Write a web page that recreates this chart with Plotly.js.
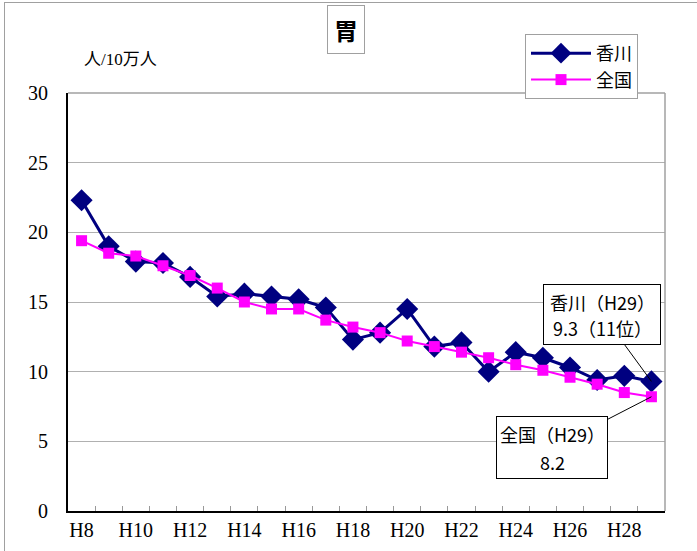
<!DOCTYPE html>
<html>
<head>
<meta charset="utf-8">
<script src="https://cdn.plot.ly/plotly-3.0.1.min.js"></script>
<style>
  html, body { margin: 0; padding: 0; background: #fff; }
  #wrap { position: relative; width: 697px; height: 551px; }
  #chart { width: 697px; height: 551px; }
  #frameL { position: absolute; left: 4px; top: 2px; width: 0; height: 549px; border-left: 1px solid #a0a0a0; }
  #frameT { position: absolute; left: 4px; top: 2px; width: 693px; height: 0; border-top: 1px solid #a0a0a0; }
</style>
</head>
<body>
<div id="wrap">
  <div id="chart"></div>
  <div id="frameL"></div>
  <div id="frameT"></div>
</div>
<script>
// Data
const years = ["H8","H9","H10","H11","H12","H13","H14","H15","H16","H17","H18",
               "H19","H20","H21","H22","H23","H24","H25","H26","H27","H28","H29"];
const tickLabels = ["H8","","H10","","H12","","H14","","H16","","H18",
                    "","H20","","H22","","H24","","H26","","H28",""];
const kagawa = [22.3,19.0,17.9,17.8,16.8,15.4,15.6,15.4,15.2,14.6,12.3,
                12.8,14.5,11.8,12.1,10.0,11.4,11.0,10.3,9.4,9.7,9.3];
const zenkoku = [19.4,18.5,18.3,17.6,16.9,16.0,15.0,14.5,14.5,13.7,13.2,
                 12.8,12.2,11.8,11.4,11.0,10.5,10.1,9.6,9.1,8.5,8.2];
const seriesNames = ["香川","全国"];
const yUnit = "人/10万人";
const chartTitle = "胃";
const noteKagawaLines = ["香川（H29）", "9.3（11位）"];
const noteZenkokuLines = ["全国（H29）", "8.2"];

const serif = "Liberation Serif, 'Noto Sans CJK JP', serif";
const sans = "'Noto Sans CJK JP', 'Noto Sans', sans-serif";

const traces = [
  {
    x: years, y: kagawa, name: seriesNames[0], type: "scatter", mode: "lines+markers",
    line: { color: "#000080", width: 3 },
    marker: { symbol: "diamond", size: 17, color: "#000080" }
  },
  {
    x: years, y: zenkoku, name: seriesNames[1], type: "scatter", mode: "lines+markers",
    line: { color: "#FF00FF", width: 2 },
    marker: { symbol: "square", size: 11, color: "#FF00FF" }
  }
];

const last = years.length - 1;
const PT = 93, PB = 511, PL = 68, PR = 665;
const px = x => (x - PL) / (PR - PL);
const py = y => (PB - y) / (PB - PT);

// callout: a bordered box with a pointer, plus its text lines
function callout(yv, ax, ay, w, h, lines, dy) {
  const out = [{
    x: years[last], y: yv, xref: "x", yref: "y",
    text: " ", showarrow: true, arrowhead: 0, arrowwidth: 1, arrowcolor: "#000",
    ax: ax, ay: ay, standoff: 0, width: w, height: h, borderpad: 0,
    bordercolor: "#000", borderwidth: 1, bgcolor: "#fff",
    font: { family: sans, size: 10, color: "#000" }
  }];
  lines.forEach((t, i) => {
    out.push({
      x: years[last], y: yv, xref: "x", yref: "y",
      text: t, showarrow: false, xanchor: "center", yanchor: "middle",
      xshift: ax, yshift: -ay + dy[i],
      font: { family: sans, size: 18, color: "#000" }
    });
  });
  return out;
}

const layout = {
  width: 697, height: 551,
  margin: { l: PL, r: 697 - PR, t: PT, b: 551 - PB },
  paper_bgcolor: "#fff", plot_bgcolor: "#fff",
  showlegend: true,
  legend: {
    x: px(525), y: py(34), xanchor: "left", yanchor: "top",
    bordercolor: "#a0a0a0", borderwidth: 1, bgcolor: "#fff",
    font: { family: sans, size: 18, color: "#000" },
    tracegroupgap: 0, itemwidth: 60
  },
  xaxis: {
    type: "category",
    tickvals: years, ticktext: tickLabels, tickangle: 0,
    tickson: "boundaries", ticks: "inside", ticklen: 5, tickcolor: "#999",
    showgrid: false, showline: true, linecolor: "#000", linewidth: 2,
    tickfont: { family: serif, size: 20, color: "#000" },
    range: [-0.5, years.length - 0.5], fixedrange: true, zeroline: false
  },
  yaxis: {
    range: [0, 30], dtick: 5, tick0: 0,
    showgrid: true, gridcolor: "#b0b0b0", gridwidth: 1,
    showline: true, linecolor: "#000", linewidth: 2,
    ticks: "outside", ticklen: 14, tickcolor: "rgba(0,0,0,0)",
    tickfont: { family: serif, size: 20, color: "#000" },
    zeroline: false, fixedrange: true
  },
  shapes: [
    { type: "line", xref: "paper", yref: "paper", x0: 0, x1: 1, y0: 1, y1: 1,
      line: { color: "#a0a0a0", width: 1.5 } },
    { type: "line", xref: "paper", yref: "paper", x0: 1, x1: 1, y0: 0, y1: 1,
      line: { color: "#a0a0a0", width: 1.5 } }
  ],
  annotations: [
    { xref: "paper", yref: "paper", x: px(345.5), y: py(30), xanchor: "center", yanchor: "middle",
      text: "<b>" + chartTitle + "</b>", showarrow: false,
      font: { family: sans, size: 24, color: "#000" },
      bordercolor: "#a0a0a0", borderwidth: 1, borderpad: 6, bgcolor: "#fff" },
    { xref: "paper", yref: "paper", x: px(120), y: py(60), xanchor: "center", yanchor: "middle",
      text: yUnit, showarrow: false,
      font: { family: serif, size: 17, color: "#000" } }
  ]
  .concat(callout(kagawa[last], -49, -67, 116, 59, noteKagawaLines, [12, -14]))
  .concat(callout(zenkoku[last], -99, 51, 110, 61, noteZenkokuLines, [14, -14]))
};

Plotly.newPlot("chart", traces, layout, { staticPlot: true, displayModeBar: false });
</script>
</body>
</html>
